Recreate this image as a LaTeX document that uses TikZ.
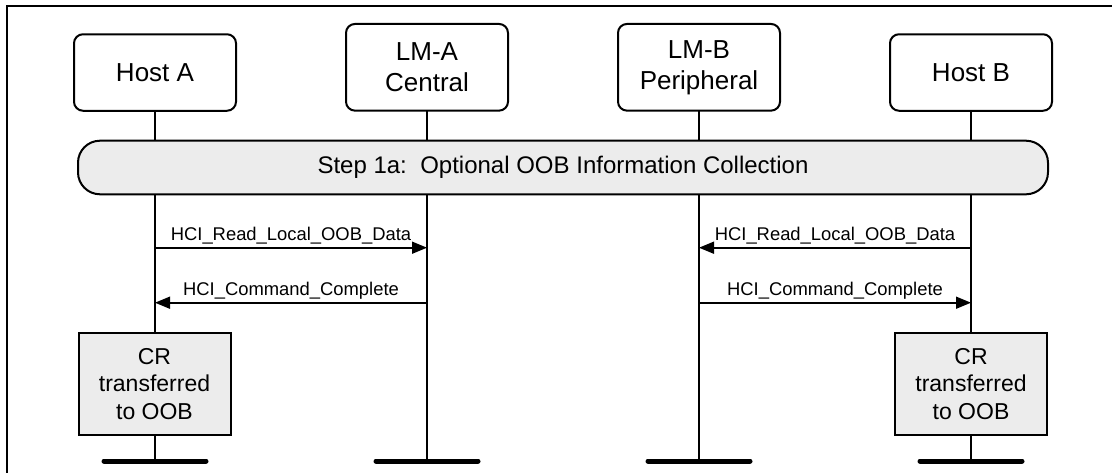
\documentclass[tikz,border=0pt]{standalone}
\usepackage{fontspec}
\setmainfont{Liberation Sans}
\usetikzlibrary{arrows.meta}
\definecolor{boxgray}{RGB}{236,236,236}
\tikzset{
  actor/.style={draw, line width=2pt, rounded corners=9pt, fill=white, minimum width=162pt, align=center, font=\fontsize{26}{31}\selectfont, inner sep=0pt},
  stepbar/.style={draw, line width=2pt, rounded corners=22pt, fill=boxgray, minimum width=970pt, minimum height=53.6pt, inner sep=0pt, font=\fontsize{24}{28}\selectfont},
  crbox/.style={draw, line width=2pt, fill=boxgray, minimum width=152pt, minimum height=102pt, align=center, inner sep=0pt, font=\fontsize{23}{27.5}\selectfont},
  lifeline/.style={line width=2pt},
  endbar/.style={line width=5pt, line cap=round},
  msg/.style={line width=1.6pt, -{Triangle[length=15pt,width=12pt]}},
  lbl/.style={font=\fontsize{18.4}{22}\selectfont, anchor=base, yshift=7pt, inner sep=0pt},
  frame/.style={line width=2pt}
}
\begin{document}
\begin{tikzpicture}[x=1pt,y=-1pt]
\useasboundingbox (0,0) rectangle (1112,472);
% frame (left and top only)
\coordinate (fbl) at (7.3,480);
\coordinate (ftl) at (7.3,6.3);
\coordinate (ftr) at (1120,6.3);
\draw[frame] (fbl) -- (ftl) -- (ftr);
% end bars
\coordinate (eA) at (155,461);
\coordinate (eLA) at (427,461);
\coordinate (eLB) at (699,461);
\coordinate (eB) at (971,461);
% lifelines
\coordinate (tA) at (155,72);
\coordinate (tLA) at (427,67);
\coordinate (tLB) at (699,67);
\coordinate (tB) at (971,72);
\draw[lifeline] (tA) -- (eA);
\draw[lifeline] (tLA) -- (eLA);
\draw[lifeline] (tLB) -- (eLB);
\draw[lifeline] (tB) -- (eB);
\draw[endbar] ([xshift=-51pt]eA) -- ([xshift=51pt]eA);
\draw[endbar] ([xshift=-51pt]eLA) -- ([xshift=51pt]eLA);
\draw[endbar] ([xshift=-51pt]eLB) -- ([xshift=51pt]eLB);
\draw[endbar] ([xshift=-51pt]eB) -- ([xshift=51pt]eB);
% actors
\node[actor, minimum height=76.5pt] (hA) at (155,72.5) {Host A};
\node[actor, minimum height=86.7pt] (lA) at (427,67.3) {LM-A\\Central};
\node[actor, minimum height=86.7pt] (lB) at (699,67.3) {LM-B\\Peripheral};
\node[actor, minimum height=76.5pt] (hB) at (971,72.5) {Host B};
% step bar
\node[stepbar] (step) at (563,167.5) {Step 1a:\ \ Optional OOB Information Collection};
% messages
\coordinate (mA1) at (155,247.7);
\coordinate (mLA1) at (427,247.7);
\coordinate (mA2) at (155,302.7);
\coordinate (mLA2) at (427,302.7);
\coordinate (mLB1) at (699,247.7);
\coordinate (mB1) at (971,247.7);
\coordinate (mLB2) at (699,302.7);
\coordinate (mB2) at (971,302.7);
\draw[msg] (mA1) -- node[lbl] {HCI\_Read\_Local\_OOB\_Data} (mLA1);
\draw[msg] (mLA2) -- node[lbl] {HCI\_Command\_Complete} (mA2);
\draw[msg] (mB1) -- node[lbl] {HCI\_Read\_Local\_OOB\_Data} (mLB1);
\draw[msg] (mLB2) -- node[lbl] {HCI\_Command\_Complete} (mB2);
% CR boxes
\node[crbox] (crA) at (154.5,384) {CR\\transferred\\to OOB};
\node[crbox] (crB) at (971,384) {CR\\transferred\\to OOB};
\end{tikzpicture}
\end{document}
